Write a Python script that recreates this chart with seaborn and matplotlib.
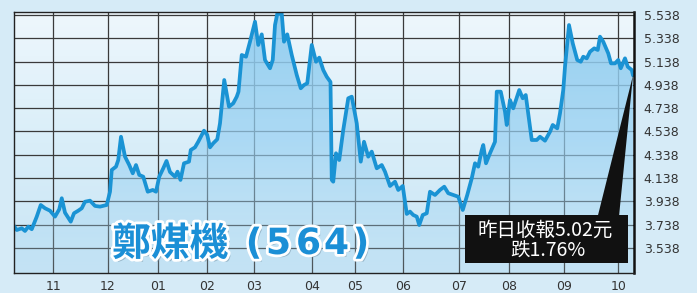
import numpy as np
import pandas as pd
import matplotlib
matplotlib.use("Agg")
import matplotlib.pyplot as plt
import seaborn as sns
from matplotlib import patheffects as pe
from matplotlib.patches import Polygon, Rectangle
from matplotlib.colors import LinearSegmentedColormap

# ---------------- data (trading-session position, closing price) ----------------
session = [0.0, 1.1, 3.1, 4.4, 5.7, 7.1, 9.1, 10.7, 12.4, 14.4, 16.4, 18.1, 19.1, 20.4,
           22.7, 24.0, 25.7, 27.1, 28.4, 30.4, 32.4, 34.4, 37.1, 38.4, 39.1, 40.8, 41.7,
           42.8, 44.4, 46.1, 47.5, 48.8, 50.1, 51.7, 53.5, 55.5, 56.8, 58.1, 59.7, 61.0,
           62.4, 64.4, 65.4, 66.6, 68.0, 70.0, 70.7, 72.4, 73.7, 76.0, 77.3, 78.4, 79.7,
           81.3, 82.4, 84.1, 86.0, 87.7, 89.1, 89.8, 91.1, 92.8, 94.4, 96.4, 97.7, 99.1,
           100.4, 102.4, 103.5, 104.4, 105.3, 107.1, 108.0, 109.3, 111.1, 113.1, 114.7,
           116.0, 117.3, 119.1, 120.8, 122.1, 123.7, 125.1, 126.6, 127.1, 127.7, 128.8,
           130.1, 131.7, 133.7, 135.1, 137.1, 138.7, 140.0, 141.7, 143.1, 145.1, 147.1,
           148.4, 150.4, 152.4, 153.7, 155.5, 157.1, 158.4, 159.7, 161.1, 162.1, 163.5,
           165.1, 166.4, 168.4, 170.4, 172.1, 173.7, 175.7, 177.7, 179.5, 181.3, 183.1,
           184.4, 185.7, 187.1, 187.7, 188.8, 190.4, 192.4, 193.1, 194.7, 196.4, 197.1,
           198.4, 199.7, 202.1, 203.5, 204.7, 207.1, 209.1, 210.4, 212.4, 214.4, 215.5,
           217.3, 218.4, 219.7, 220.4, 222.0, 223.5, 225.3, 226.7, 227.7, 229.1, 230.4,
           232.1, 233.5, 234.4, 235.7, 237.7, 238.8, 240.4, 241.7, 242.7, 244.4, 245.5,
           247.1, 247.6]
price = [3.727, 3.692, 3.707, 3.684, 3.721, 3.699, 3.807, 3.907, 3.879, 3.858, 3.807,
         3.870, 3.965, 3.841, 3.764, 3.836, 3.858, 3.879, 3.935, 3.944, 3.899, 3.893,
         3.907, 4.021, 4.208, 4.236, 4.293, 4.493, 4.322, 4.250, 4.179, 4.250, 4.165,
         4.150, 4.021, 4.036, 4.021, 4.150, 4.222, 4.285, 4.190, 4.150, 4.193, 4.122,
         4.265, 4.279, 4.379, 4.402, 4.450, 4.545, 4.508, 4.402, 4.437, 4.471, 4.608,
         4.980, 4.751, 4.780, 4.837, 4.880, 5.195, 5.180, 5.309, 5.481, 5.281, 5.372,
         5.152, 5.081, 5.152, 5.452, 5.548, 5.548, 5.309, 5.372, 5.195, 5.023, 4.909,
         4.937, 4.952, 5.281, 5.137, 5.172, 5.066, 5.008, 4.963, 4.122, 4.107, 4.351,
         4.293, 4.551, 4.823, 4.837, 4.608, 4.279, 4.450, 4.322, 4.365, 4.222, 4.250,
         4.193, 4.070, 4.107, 4.036, 4.070, 3.830, 3.850, 3.821, 3.807, 3.735, 3.821,
         3.836, 4.021, 3.993, 4.036, 4.064, 4.008, 3.993, 3.978, 3.864, 3.993, 4.136,
         4.265, 4.236, 4.379, 4.422, 4.265, 4.351, 4.450, 4.880, 4.880, 4.708, 4.594,
         4.808, 4.737, 4.894, 4.823, 4.851, 4.465, 4.465, 4.493, 4.459, 4.536, 4.594,
         4.565, 4.694, 4.894, 5.094, 5.452, 5.295, 5.152, 5.137, 5.180, 5.166, 5.223,
         5.252, 5.238, 5.352, 5.309, 5.209, 5.123, 5.123, 5.152, 5.081, 5.166, 5.094,
         5.066, 5.020]

month_pos = [15.7, 37.5, 57.7, 77.1, 96.1, 119.1, 136.4, 155.7, 178.1, 198.0, 220.1, 241.7]
month_labels = ["11", "12", "01", "02", "03", "04", "05", "06", "07", "08", "09", "10"]
y_ticks = [3.538, 3.738, 3.938, 4.138, 4.338, 4.538, 4.738, 4.938, 5.138, 5.338, 5.538]
y_labels = [f"{v:.3f}" for v in y_ticks]
title_cjk = "鄭煤機"
title_code = "(564)"
note_lines = ["昨日收報5.02元", "跌1.76%"]

X_MIN, X_MAX = 0, 248
Y_MIN, Y_MAX = 3.323, 5.564

# ---------------- figure ----------------
sns.set_theme(style="white")
plt.rcParams["font.family"] = ["Noto Sans CJK TC", "DejaVu Sans"]

fig = plt.figure(figsize=(6.97, 2.93), dpi=100, facecolor="#d6ebf7")
ax = fig.add_axes([14 / 697, 20 / 293, 620 / 697, 261 / 293])
ax.set_facecolor("#e4f2fa")

df = pd.DataFrame({"session": session, "price": price})

# background gradient inside plot
grad = np.linspace(0, 1, 256).reshape(-1, 1)
bg_cm = LinearSegmentedColormap.from_list("bg", ["#c9e5f5", "#d9eef9", "#eef7fc"])
ax.imshow(grad, cmap=bg_cm, origin="lower", extent=[X_MIN, X_MAX, Y_MIN, Y_MAX],
          aspect="auto", zorder=0)

# area under the line with a fading blue gradient
poly = ax.fill_between(df["session"], df["price"], Y_MIN, color="none", lw=0)
fill_cm = LinearSegmentedColormap.from_list(
    "fill", [(0.66, 0.85, 0.95, 0.15), (0.60, 0.82, 0.95, 0.70), (0.56, 0.80, 0.94, 0.95)])
im = ax.imshow(grad, cmap=fill_cm, origin="lower", extent=[X_MIN, X_MAX, Y_MIN, Y_MAX],
               aspect="auto", zorder=1)
im.set_clip_path(poly.get_paths()[0], transform=ax.transData)

# price line
sns.lineplot(data=df, x="session", y="price", ax=ax, color="#1a93d4", lw=2.7,
             sort=False, estimator=None, zorder=3)

ax.set_xlim(X_MIN, X_MAX)
ax.set_ylim(Y_MIN, Y_MAX)
ax.set_xlabel("")
ax.set_ylabel("")

ax.set_xticks(month_pos)
ax.set_xticklabels(month_labels)
ax.set_yticks(y_ticks)
ax.set_yticklabels(y_labels)
ax.yaxis.tick_right()
ax.tick_params(axis="both", length=0, labelsize=9, colors="#333333")
ax.tick_params(axis="x", pad=5)
ax.tick_params(axis="y", pad=7)
for lab in ax.get_xticklabels() + ax.get_yticklabels():
    lab.set_fontfamily(["DejaVu Sans"])

ax.set_axisbelow(True)
ax.grid(True, color="#3a3a3a", lw=0.9)
for side, sp in ax.spines.items():
    sp.set_visible(True)
    sp.set_color("#222222")
    sp.set_linewidth(1.0)
    sp.set_zorder(4)
ax.spines["right"].set_linewidth(1.8)
ax.spines["right"].set_color("#111111")

# ---------------- title ----------------
title_fx = [pe.SimplePatchShadow(offset=(2, -2), shadow_rgbFace="#6f8fa3", alpha=0.55),
            pe.Stroke(linewidth=4, foreground="white"), pe.Normal()]
ax.text((112 - 14) / 620, (273 - 244) / 261, title_cjk, transform=ax.transAxes,
        fontsize=28, fontweight="bold", color="#1b8fd6", ha="left", va="center",
        family=["Noto Sans CJK TC"], path_effects=title_fx, zorder=6)
code_px = [254, 278.5, 308.5, 336.5, 361]
for ch, px in zip(title_code, code_px):
    ax.text((px - 14) / 620, (273 - 244) / 261, ch, transform=ax.transAxes,
            fontsize=26, fontweight="bold", color="#1b8fd6", ha="center", va="center",
            family=["DejaVu Sans"], path_effects=title_fx, zorder=6)

# ---------------- annotation box ----------------
to_axes = ax.transData + ax.transAxes.inverted()
apex = to_axes.transform((session[-1], price[-1]))
wedge = Polygon([(0.942, 0.222), (0.976, 0.222), tuple(apex)], closed=True,
                transform=ax.transAxes, facecolor="#111111", edgecolor="none", zorder=5)
ax.add_patch(wedge)
box = Rectangle((0.727, 0.038), 0.263, 0.184, transform=ax.transAxes,
                facecolor="#111111", edgecolor="none", zorder=5)
ax.add_patch(box)
ax.text(0.857, 0.165, note_lines[0], transform=ax.transAxes, fontsize=14,
        color="white", ha="center", va="center", zorder=6)
ax.text(0.861, 0.082, note_lines[1], transform=ax.transAxes, fontsize=14,
        color="white", ha="center", va="center", zorder=6)

fig.savefig("out.png", dpi=100, facecolor=fig.get_facecolor())
